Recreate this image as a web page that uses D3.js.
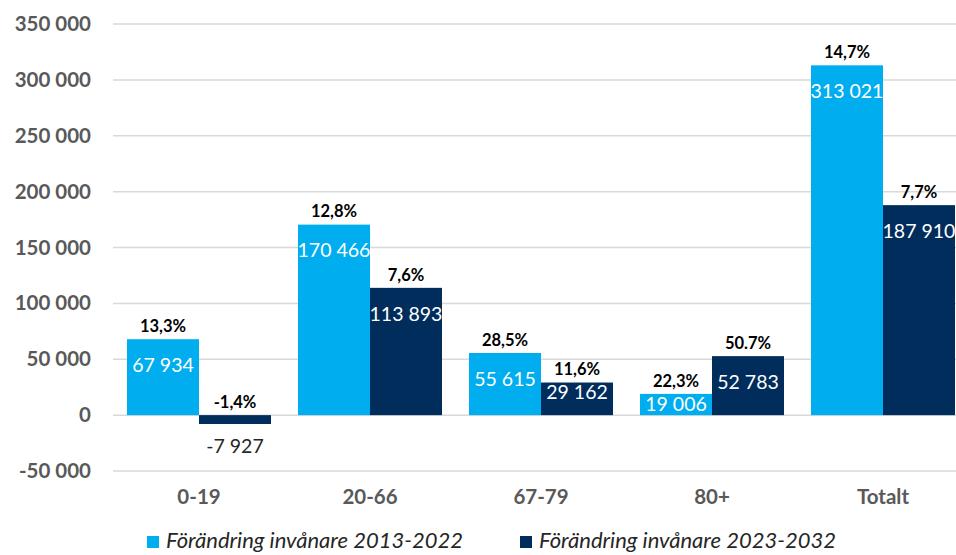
<!DOCTYPE html>
<html><head><meta charset="utf-8">
<script src="https://cdn.jsdelivr.net/npm/d3@7"></script>
<style>body{margin:0;background:#fff}svg{display:block}</style>
</head><body>
<svg id="c" width="956" height="555"></svg>
<script>
const categories = ["0-19","20-66","67-79","80+","Totalt"];
const series1Name = "Förändring invånare 2013-2022";
const series2Name = "Förändring invånare 2023-2032";
const series1 = [67934,170466,55615,19006,313021];
const series2 = [-7927,113893,29162,52783,187910];
const pct1 = ["13,3%","12,8%","28,5%","22,3%","14,7%"];
const pct2 = ["-1,4%","7,6%","11,6%","50.7%","7,7%"];
const yTicks = [-50000,0,50000,100000,150000,200000,250000,300000,350000];
const colors = ["#00AEEF","#002D5C"];

const svg = d3.select("#c");
const font = "Lato, 'Open Sans', sans-serif";
const y = d3.scaleLinear().domain([-50000,350000]).range([471,24]);
const x = d3.scaleBand().domain(categories).range([113.5,968.5]);
const barW = 72;
const fmt = v => d3.format(",")(v).replace(/,/g," ").replace(/\u2212/g,"-");

// gridlines
svg.append("g").selectAll("line").data(yTicks).join("line")
  .attr("x1",113).attr("x2",956)
  .attr("y1",d=>y(d)).attr("y2",d=>y(d))
  .attr("stroke","#D9D9D9").attr("stroke-width",1.5);

// y axis labels
const yAxis = d3.axisLeft(y).tickValues(yTicks).tickFormat(fmt).tickSize(0).tickPadding(0);
const ya = svg.append("g").attr("transform","translate(91,0)").call(yAxis);
ya.select(".domain").remove();
ya.selectAll("text").attr("font-family",font).attr("font-weight","bold")
  .attr("font-size",20.5).attr("fill","#595959");

// x labels
const xAxis = d3.axisBottom(x).tickSize(0).tickPadding(0);
const xa = svg.append("g").attr("transform","translate(0,489)").call(xAxis);
xa.select(".domain").remove();
xa.selectAll("text").attr("font-family",font).attr("font-weight","bold")
  .attr("font-size",20.5).attr("fill","#595959");

const data = [];
categories.forEach((c,i)=>{
  data.push({c, s:0, v:series1[i], p:pct1[i]});
  data.push({c, s:1, v:series2[i], p:pct2[i]});
});

svg.append("g").selectAll("rect").data(data).join("rect")
  .attr("x",d=>x(d.c)+x.bandwidth()/2 - barW + d.s*barW)
  .attr("width",barW)
  .attr("y",d=>Math.min(y(d.v),y(0)))
  .attr("height",d=>Math.abs(y(d.v)-y(0)))
  .attr("fill",d=>colors[d.s]);

// value labels
svg.append("g").selectAll("text").data(data).join("text")
  .attr("x",d=>x(d.c)+x.bandwidth()/2 - barW/2 + d.s*barW)
  .attr("y",d=>{
    if (d.v<0) return y(d.v)+22;
    const h = y(0)-y(d.v);
    return y(d.v) + (h>45 ? 26 : 10);
  })
  .attr("dy","0.35em")
  .attr("text-anchor","middle")
  .attr("font-family",font).attr("font-size",19.5)
  .attr("fill",d=>d.v<0 ? "#262626" : "#ffffff")
  .text(d=>fmt(d.v));

// percent labels
svg.append("g").selectAll("text").data(data).join("text")
  .attr("x",d=>x(d.c)+x.bandwidth()/2 - barW/2 + d.s*barW)
  .attr("y",d=>y(Math.max(d.v,0)) - 13)
  .attr("dy","0.35em")
  .attr("text-anchor","middle")
  .attr("font-family",font).attr("font-weight","bold").attr("font-size",16.5)
  .attr("fill","#000")
  .text(d=>d.p);

// legend
const leg = svg.append("g");
[[147,series1Name],[520,series2Name]].forEach(([lx,name],i)=>{
  leg.append("rect").attr("x",lx).attr("y",536).attr("width",12).attr("height",12).attr("fill",colors[i]);
  leg.append("text").attr("x",lx+19).attr("y",548)
    .attr("font-family",font).attr("font-style","italic").attr("font-size",22)
    .attr("fill","#262626").text(name);
});
</script>
</body></html>
